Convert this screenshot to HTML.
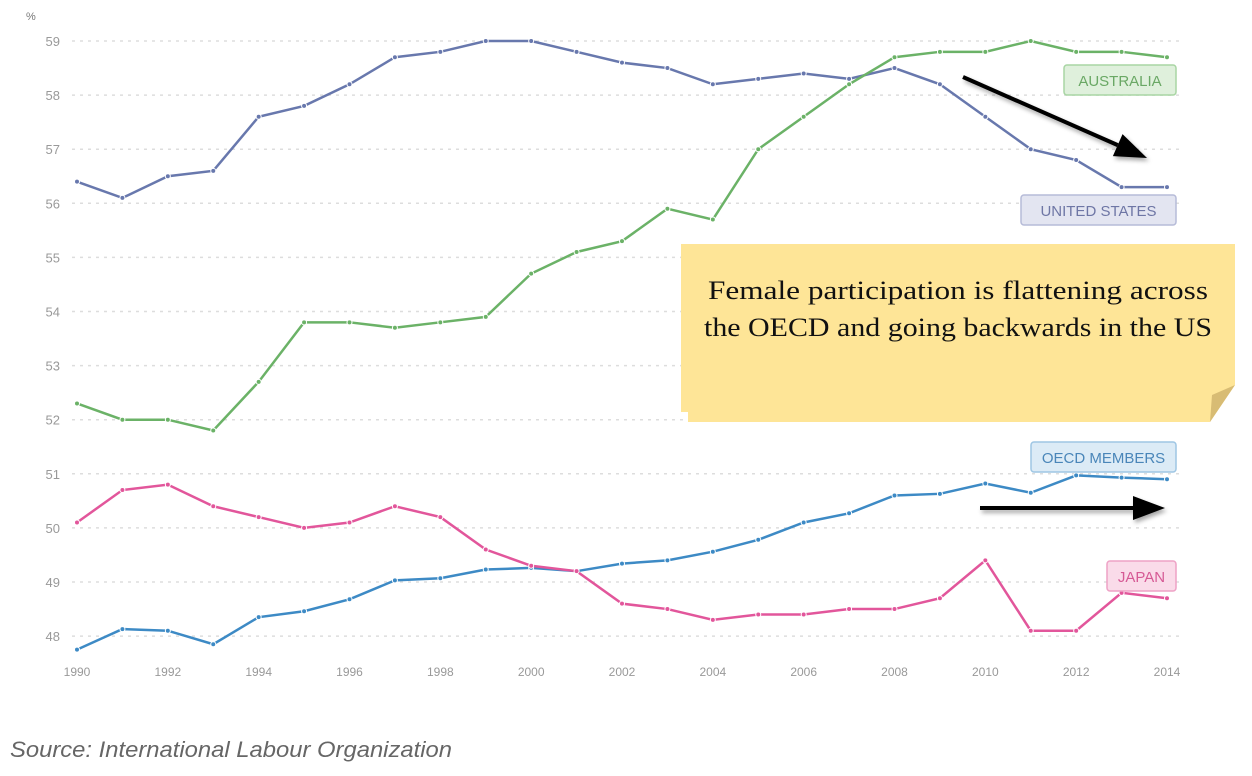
<!DOCTYPE html>
<html><head><meta charset="utf-8"><style>
body{margin:0;background:#fff;width:1252px;height:771px;overflow:hidden;font-family:"Liberation Sans",sans-serif}
</style></head><body>
<svg id="chart" width="1252" height="771" xmlns="http://www.w3.org/2000/svg">
<defs>
<filter id="sh" x="-20%" y="-50%" width="140%" height="200%"><feDropShadow dx="2" dy="3" stdDeviation="2" flood-color="#000" flood-opacity="0.35"/></filter>
</defs>
<g id="grid"></g><g id="series"></g>
</svg>
<script>
const years=[1990,1991,1992,1993,1994,1995,1996,1997,1998,1999,2000,2001,2002,2003,2004,2005,2006,2007,2008,2009,2010,2011,2012,2013,2014];
const yTicks=[48,49,50,51,52,53,54,55,56,57,58,59];
const xTicks=[1990,1992,1994,1996,1998,2000,2002,2004,2006,2008,2010,2012,2014];
const usValues=[56.4,56.1,56.5,56.6,57.6,57.8,58.2,58.7,58.8,59.0,59.0,58.8,58.6,58.5,58.2,58.3,58.4,58.3,58.5,58.2,57.6,57.0,56.8,56.3,56.3];
const ausValues=[52.3,52.0,52.0,51.8,52.7,53.8,53.8,53.7,53.8,53.9,54.7,55.1,55.3,55.9,55.7,57.0,57.6,58.2,58.7,58.8,58.8,59.0,58.8,58.8,58.7];
const oecdValues=[47.75,48.13,48.1,47.85,48.35,48.46,48.68,49.03,49.07,49.23,49.26,49.2,49.34,49.4,49.56,49.78,50.1,50.27,50.6,50.63,50.82,50.65,50.97,50.93,50.9];
const japanValues=[50.1,50.7,50.8,50.4,50.2,50.0,50.1,50.4,50.2,49.6,49.3,49.2,48.6,48.5,48.3,48.4,48.4,48.5,48.5,48.7,49.4,48.1,48.1,48.8,48.7];
const NS="http://www.w3.org/2000/svg";
const x=yr=>77+(yr-1990)*(1090/24);
const y=v=>41+(59-v)*54.1;
const svg=document.getElementById('chart');
const grid=document.getElementById('grid'),ser=document.getElementById('series');
function mk(t,a,p){const e=document.createElementNS(NS,t);for(const k in a)e.setAttribute(k,a[k]);(p||svg).appendChild(e);return e;}
let u=mk('text',{x:26,y:20,'font-size':11,fill:'#777'},grid);u.textContent='%';


yTicks.forEach(v=>{
 const l=mk('line',{x1:72,x2:1180,y1:y(v),y2:y(v),stroke:'#ddd','stroke-dasharray':'3,5','stroke-width':1.5},grid);
 
 
 const t=mk('text',{x:60,y:y(v)+5,'text-anchor':'end','font-size':13,fill:'#999'},grid);t.textContent=v;
 
 
});
xTicks.forEach(v=>{
 const t=mk('text',{x:x(v),y:676,'text-anchor':'middle','font-size':12,fill:'#999'},grid);t.textContent=v;
 
 
});
function series(vals,col,name){
 const g=mk('g',{},ser);
 
 
 mk('polyline',{points:vals.map((v,i)=>x(years[i])+','+y(v)).join(' '),fill:'none',stroke:col,'stroke-width':2.5},g);
 vals.forEach((v,i)=>{const c=mk('circle',{cx:x(years[i]),cy:y(v),r:2.5,fill:col,stroke:'#fff','stroke-width':1},g);
  
  });
}
series(usValues,'#6878ad','us-line');
series(ausValues,'#6bb267','australia-line');
series(oecdValues,'#3d8ac5','oecd-line');
series(japanValues,'#e2569b','japan-line');
function label(txt,x1,y1,w,h,bg,bd,fg,name){
 const g=mk('g',{});
 
 
 mk('rect',{x:x1,y:y1,width:w,height:h,rx:3,fill:bg,stroke:bd,'stroke-width':1.5},g);
 const t=mk('text',{x:x1+w/2,y:y1+h/2+6,'text-anchor':'middle','font-size':15,fill:fg},g);t.textContent=txt;
}
label('AUSTRALIA',1064,65,112,30,'#dff0dc','#a8d5a3','#6aa865','legend-australia');
label('UNITED STATES',1021,195,155,30,'#e3e5f1','#b6bbd8','#6e76a5','legend-united-states');
label('OECD MEMBERS',1031,442,145,30,'#dcebf6','#9ec6e4','#4a86b9','legend-oecd-members');
label('JAPAN',1107,561,69,30,'#fadbe9','#eea2c6','#d65a95','legend-japan');
function arrow(x1,y1,x2,y2,name){
 const g=mk('g',{filter:'url(#sh)'});
 
 
 const a=Math.atan2(y2-y1,x2-x1),L=32,W=12;
 const bx=x2-L*Math.cos(a),by=y2-L*Math.sin(a);
 mk('line',{x1,y1,x2:bx,y2:by,stroke:'#000','stroke-width':4},g);
 mk('polygon',{points:`${x2},${y2} ${bx-W*Math.sin(a)},${by+W*Math.cos(a)} ${bx+W*Math.sin(a)},${by-W*Math.cos(a)}`,fill:'#000'},g);
}
arrow(963,77,1147,158,'us-decline-arrow');
arrow(980,508,1165,508,'oecd-flat-arrow');
const n=mk('g',{});


mk('polygon',{points:'681,244 1235,244 1235,385 1210,422 688,422 688,412 681,412',fill:'#fee597'},n);
mk('polygon',{points:'1210,422 1235,385 1212,395',fill:'#d8bc74'},n);
[['Female participation is flattening across',299,500],['the OECD and going backwards in the US',336,508]].forEach(([s,yy,w])=>{
 const t=mk('text',{x:958,y:yy,'text-anchor':'middle','font-size':26,'font-family':'"Liberation Serif",serif',fill:'#111',textLength:w,lengthAdjust:'spacingAndGlyphs'},n);t.textContent=s;});
const src=mk('text',{x:10,y:757,'font-size':22,'font-style':'italic',fill:'#666',textLength:442,lengthAdjust:'spacingAndGlyphs'});
src.textContent='Source: International Labour Organization';


</script>
</body></html>
